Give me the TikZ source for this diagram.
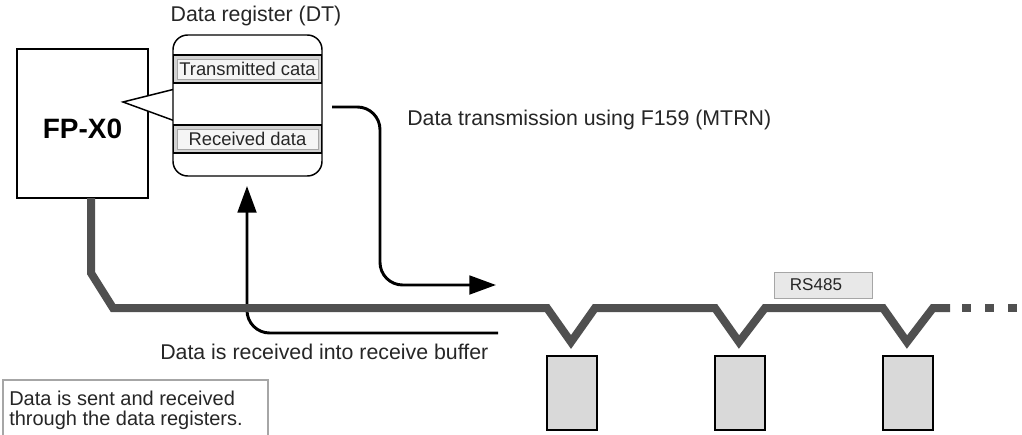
\documentclass[tikz,border=0pt]{standalone}
\usepackage{fontspec}
\setmainfont{Liberation Sans}
\usetikzlibrary{arrows.meta}
\definecolor{busgray}{HTML}{505050}
\definecolor{slavefill}{HTML}{D9D9D9}
\tikzset{
  lbl/.style={font=\fontsize{16}{18}\selectfont, inner sep=0pt, text=black!85},
  rowout/.style={draw=black, line width=0.9pt, fill=gray!35, minimum width=110.5pt, minimum height=21pt, inner sep=0pt},
  rowin/.style={draw=gray!70, line width=0.5pt, fill=gray!8, minimum width=106pt, minimum height=15pt, inner sep=0pt, font=\fontsize{13.8}{16}\selectfont, text=black!85},
  bus/.style={line width=6pt, draw=busgray, line join=miter, line cap=butt},
  flow/.style={line width=2.2pt, rounded corners=17pt, -{Triangle[length=20pt, width=14pt]}},
  slave/.style={draw=black, line width=1.1pt, fill=slavefill, minimum width=37.5pt, minimum height=55.5pt, inner sep=0pt},
}
\begin{document}
\begin{tikzpicture}[x=0.75pt,y=-0.75pt]
\useasboundingbox (0,0) rectangle (1022,435);
\fill[white] (0,0) rectangle (1022,435);

% FP-X0 box
\node[draw=black, line width=1.1pt, fill=white, minimum width=98.25pt, minimum height=111.75pt, inner sep=0pt] (fpx) at (82.5,123.5) {};
\node[font=\fontsize{21}{24}\bfseries, inner sep=0pt] (fpxt) at (82.5,129) {FP-X0};

% callout wedge
\fill[white] (175,89) -- (123,102) -- (175,121) -- cycle;
\draw[line width=1.1pt] (175,89) -- (123,102) -- (175,121);

% data register
\node[draw=black, line width=1.1pt, fill=white, rounded corners=11pt, minimum width=111.75pt, minimum height=105.75pt, inner sep=0pt] (reg) at (247.5,105.5) {};
\node[rowout] (txo) at (247.5,69) {};
\node[rowin] (tx) at (247.5,69) {Transmitted cata};
\node[rowout] (rxo) at (247.5,139) {};
\node[rowin] (rx) at (247.5,139) {Received data};
\node[lbl, anchor=center] (regt) at (256,16) {Data register (DT)};

% flow arrows
\coordinate (s1) at (332,107);
\coordinate (e1) at (496,285);
\draw[flow] (s1) -- (380,107) -- (380,285) -- (e1);
\coordinate (s2) at (498,333);
\coordinate (e2) at (247,186);
\draw[flow] (s2) -- (247,333) -- (e2);

% bus
\coordinate (b0) at (91,198);
\coordinate (b1) at (950,308);
\coordinate (b2) at (1022,308);
\draw[bus] (b0) -- (91,273) -- (113,308) -- (547,308) -- (571,342) -- (595,308)
  -- (715,308) -- (739,342) -- (765,308) -- (883,308) -- (907,342) -- (933,308) -- (b1);
\draw[bus, dash pattern=on 6.75pt off 10.5pt] (b1) ++(12,0) -- (b2);

% slaves
\node[slave] (sl1) at (572,393) {};
\node[slave] (sl2) at (740,393) {};
\node[slave] (sl3) at (908,393) {};

% RS485 label
\node[draw=gray!70, line width=0.6pt, fill=gray!18, minimum width=73.5pt, minimum height=19.5pt, inner sep=0pt] (rsbox) at (823,285) {};
\node[font=\fontsize{12.8}{14}\selectfont, inner sep=0pt, text=black!85] (rs) at (816,285) {RS485};

% texts
\node[lbl, anchor=west] (ttx) at (407,120) {Data transmission using F159 (MTRN)};
\node[lbl, anchor=west] (trx) at (160,352) {Data is received into receive buffer};

% note box
\draw[draw=gray!70, line width=0.8pt] (3,438) -- (3,380) -- (268,380) -- (268,438);
\node[anchor=north west, inner sep=0pt, align=left, font=\fontsize{15}{15}\selectfont, text=black!85] (note) at (9,391) {Data is sent and received\\through the data registers.};
\end{tikzpicture}
\end{document}
